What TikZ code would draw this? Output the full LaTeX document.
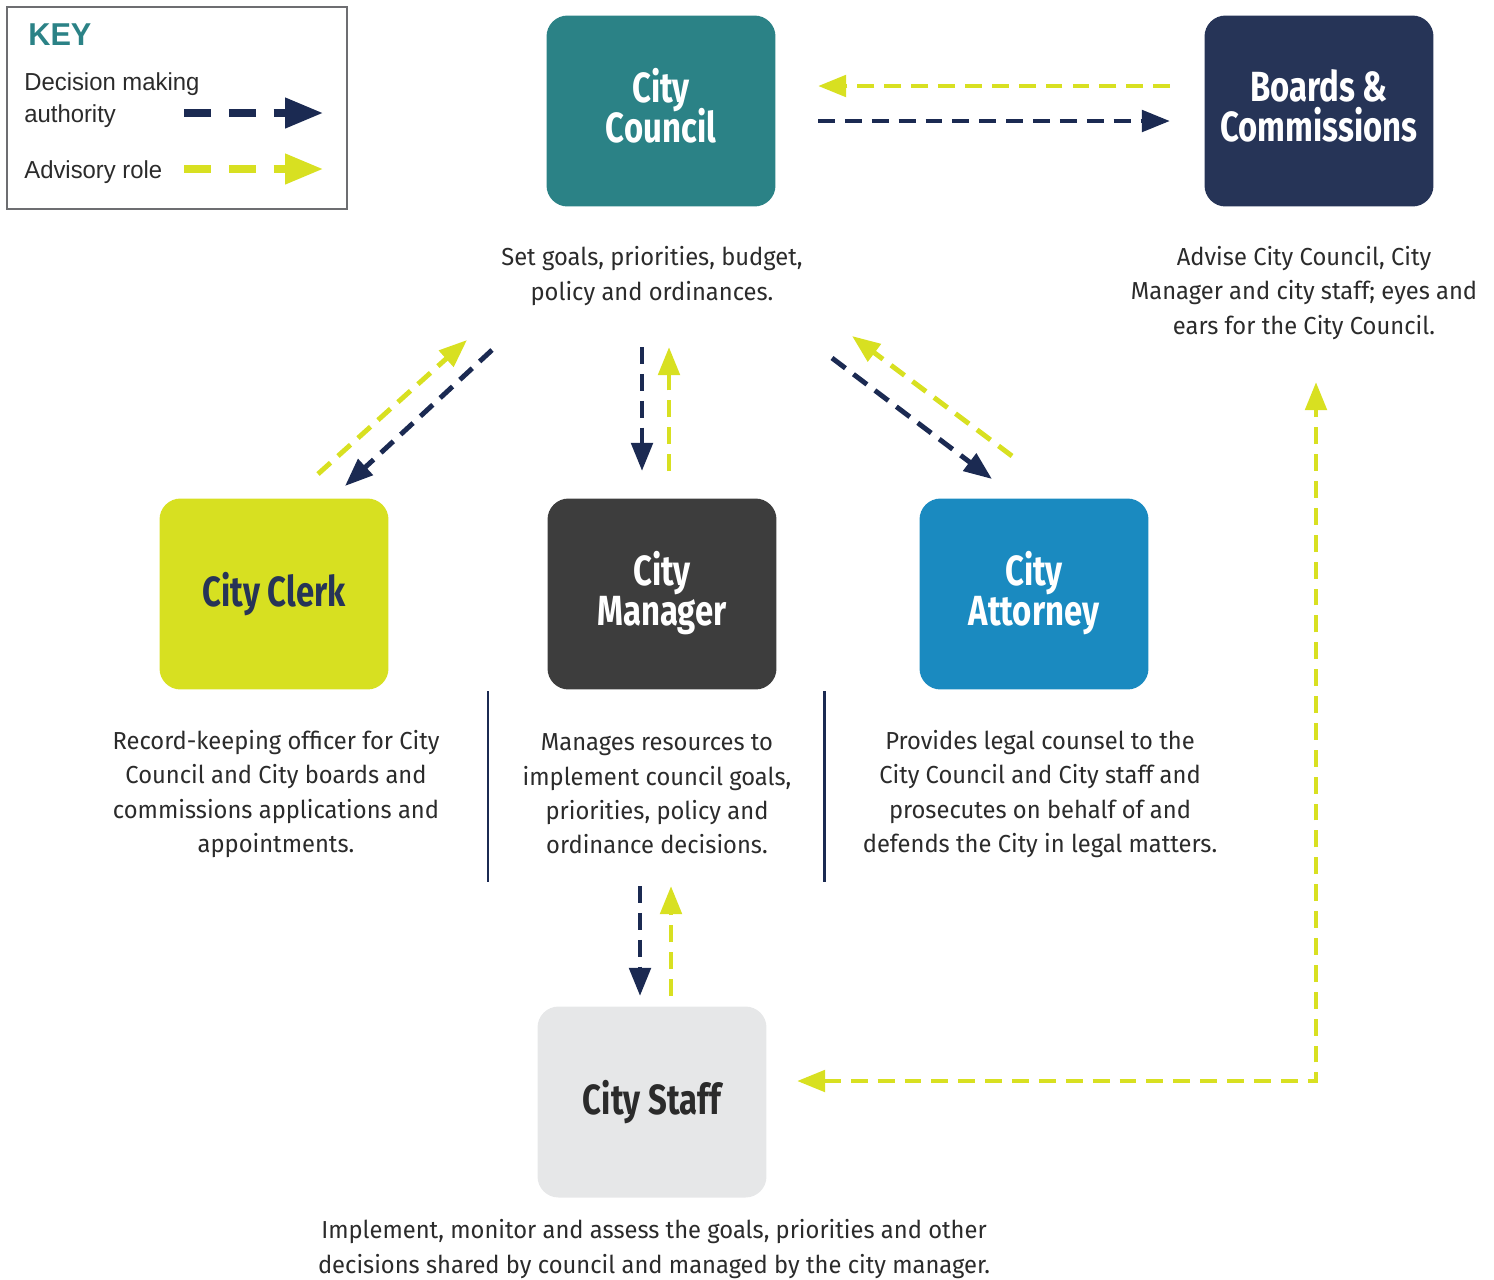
\documentclass[tikz,border=0pt]{standalone}
\usepackage{fontspec}
\setmainfont{Fira Sans}[FakeStretch=0.965]
\newfontfamily\headfont{Fira Sans}[FakeStretch=0.78]
\newfontfamily\keyfont{Liberation Sans}[FakeStretch=0.97]
\usetikzlibrary{arrows.meta}
\newcommand\tightlines{\lineskiplimit=-10pt\relax}

\definecolor{councilteal}{HTML}{2B8286}
\definecolor{boardsnavy}{HTML}{263457}
\definecolor{clerkgreen}{HTML}{D7E021}
\definecolor{managergray}{HTML}{3D3D3D}
\definecolor{attorneyblue}{HTML}{1A8AC0}
\definecolor{staffgray}{HTML}{E6E7E8}
\definecolor{decnavy}{HTML}{1B2A52}
\definecolor{advyellow}{HTML}{D8E021}
\definecolor{captext}{HTML}{2B2B2B}
\definecolor{keygray}{HTML}{6D6E71}

\begin{document}
\begin{tikzpicture}[x=0.02cm, y=-0.02cm,
    box/.style={rounded corners=0.42cm, minimum width=4.58cm, minimum height=3.82cm, align=center, text=white, font=\headfont\bfseries\fontsize{24}{22.6}\selectfont\tightlines},
    twoline/.style={text depth=6pt},
    caption/.style={align=center, text=captext, font=\fontsize{14}{19.6}\selectfont},
    keytext/.style={anchor=base west, inner sep=0pt, text=captext, font=\keyfont\fontsize{14}{18}\selectfont},
    decision/.style={draw=decnavy, line width=2.8pt, dash pattern=on 9.6pt off 5.7pt, -{Triangle[length=16pt,width=12pt]}},
    advisory/.style={decision, draw=advyellow},
    keydecision/.style={decision, line width=4pt, dash pattern=on 15.3pt off 10.2pt, -{Triangle[length=21.5pt,width=16.5pt]}},
    keyadvisory/.style={keydecision, draw=advyellow},
    sepline/.style={draw=decnavy, line width=1.7pt}]

    \useasboundingbox (0,0) rectangle (1494,1279);

    % key
    \node[draw=keygray, line width=1.3pt, minimum width=6.8cm, minimum height=4.04cm] (keybox) at (177,108) {};
    \node[anchor=base west, inner sep=0pt, text=councilteal, font=\keyfont\fontsize{18}{18}\bfseries\selectfont] (keytitle) at (28,45) {KEY};
    \node[keytext] (keydec) at (24,90) {Decision making};
    \node[keytext] (keyauth) at (24,122) {authority};
    \node[keytext] (keyadv) at (24,178) {Advisory role};
    \coordinate (kd1) at (184,113);
    \coordinate (kd2) at (323,113);
    \coordinate (ka1) at (184,169);
    \coordinate (ka2) at (323,169);

    % boxes
    \node[box, twoline, fill=councilteal] (council) at (661,111) {City\\Council};
    \node[box, twoline, fill=boardsnavy] (boards) at (1319,111) {Boards \&\\Commissions};
    \node[box, fill=clerkgreen, text=boardsnavy] (clerk) at (274,594) {City Clerk};
    \node[box, twoline, fill=managergray] (manager) at (662,594) {City\\Manager};
    \node[box, twoline, fill=attorneyblue] (attorney) at (1034,594) {City\\Attorney};
    \node[box, fill=staffgray, text=captext] (staff) at (652,1102) {City Staff};

    % captions
    \node[caption] (councilcap) at (652,276) {Set goals, priorities, budget,\\policy and ordinances.};
    \node[caption] (boardscap) at (1304,293) {Advise City Council, City\\Manager and city staff; eyes and\\ears for the City Council.};
    \node[caption] (clerkcap) at (276,794) {Record-keeping officer for City\\Council and City boards and\\commissions applications and\\appointments.};
    \node[caption] (managercap) at (657,794) {Manages resources to\\implement council goals,\\priorities, policy and\\ordinance decisions.};
    \node[caption] (attorneycap) at (1040,794) {Provides legal counsel to the\\City Council and City staff and\\prosecutes on behalf of and\\defends the City in legal matters.};
    \node[caption] (staffcap) at (654,1249) {Implement, monitor and assess the goals, priorities and other\\decisions shared by council and managed by the city manager.};

    \draw[sepline] (488,691) -- (488,882);
    \draw[sepline] (824,691) -- (824,882);

    % connector ends
    \coordinate (cb1) at (1170,86);  \coordinate (cb2) at (818,86);
    \coordinate (cb3) at (818,121);  \coordinate (cb4) at (1170,121);
    \coordinate (cl1) at (318,474);  \coordinate (cl2) at (467,340);
    \coordinate (cl3) at (492,350);  \coordinate (cl4) at (345,486);
    \coordinate (cm1) at (642,347);  \coordinate (cm2) at (642,471);
    \coordinate (cm3) at (669,471);  \coordinate (cm4) at (669,347);
    \coordinate (ca1) at (832,358);  \coordinate (ca2) at (992,479);
    \coordinate (ca3) at (1012,456); \coordinate (ca4) at (852,336);
    \coordinate (ms1) at (640,886);  \coordinate (ms2) at (640,996);
    \coordinate (ms3) at (671,996);  \coordinate (ms4) at (671,886);
    \coordinate (sb1) at (797,1081); \coordinate (sb2) at (1316,1081);
    \coordinate (sb3) at (1316,382);

    \path
        (kd1) edge[keydecision] (kd2)
        (ka1) edge[keyadvisory] (ka2)
        (cb1) edge[advisory] (cb2)
        (cb3) edge[decision] (cb4)
        (cl1) edge[advisory] (cl2)
        (cl3) edge[decision] (cl4)
        (cm1) edge[decision] (cm2)
        (cm3) edge[advisory] (cm4)
        (ca1) edge[decision] (ca2)
        (ca3) edge[advisory] (ca4)
        (ms1) edge[decision] (ms2)
        (ms3) edge[advisory] (ms4)
        ;
    \draw[advisory, {Triangle[length=16pt,width=12pt]}-{Triangle[length=16pt,width=12pt]}] (sb1) -- (sb2) -- (sb3);
\end{tikzpicture}
\end{document}
